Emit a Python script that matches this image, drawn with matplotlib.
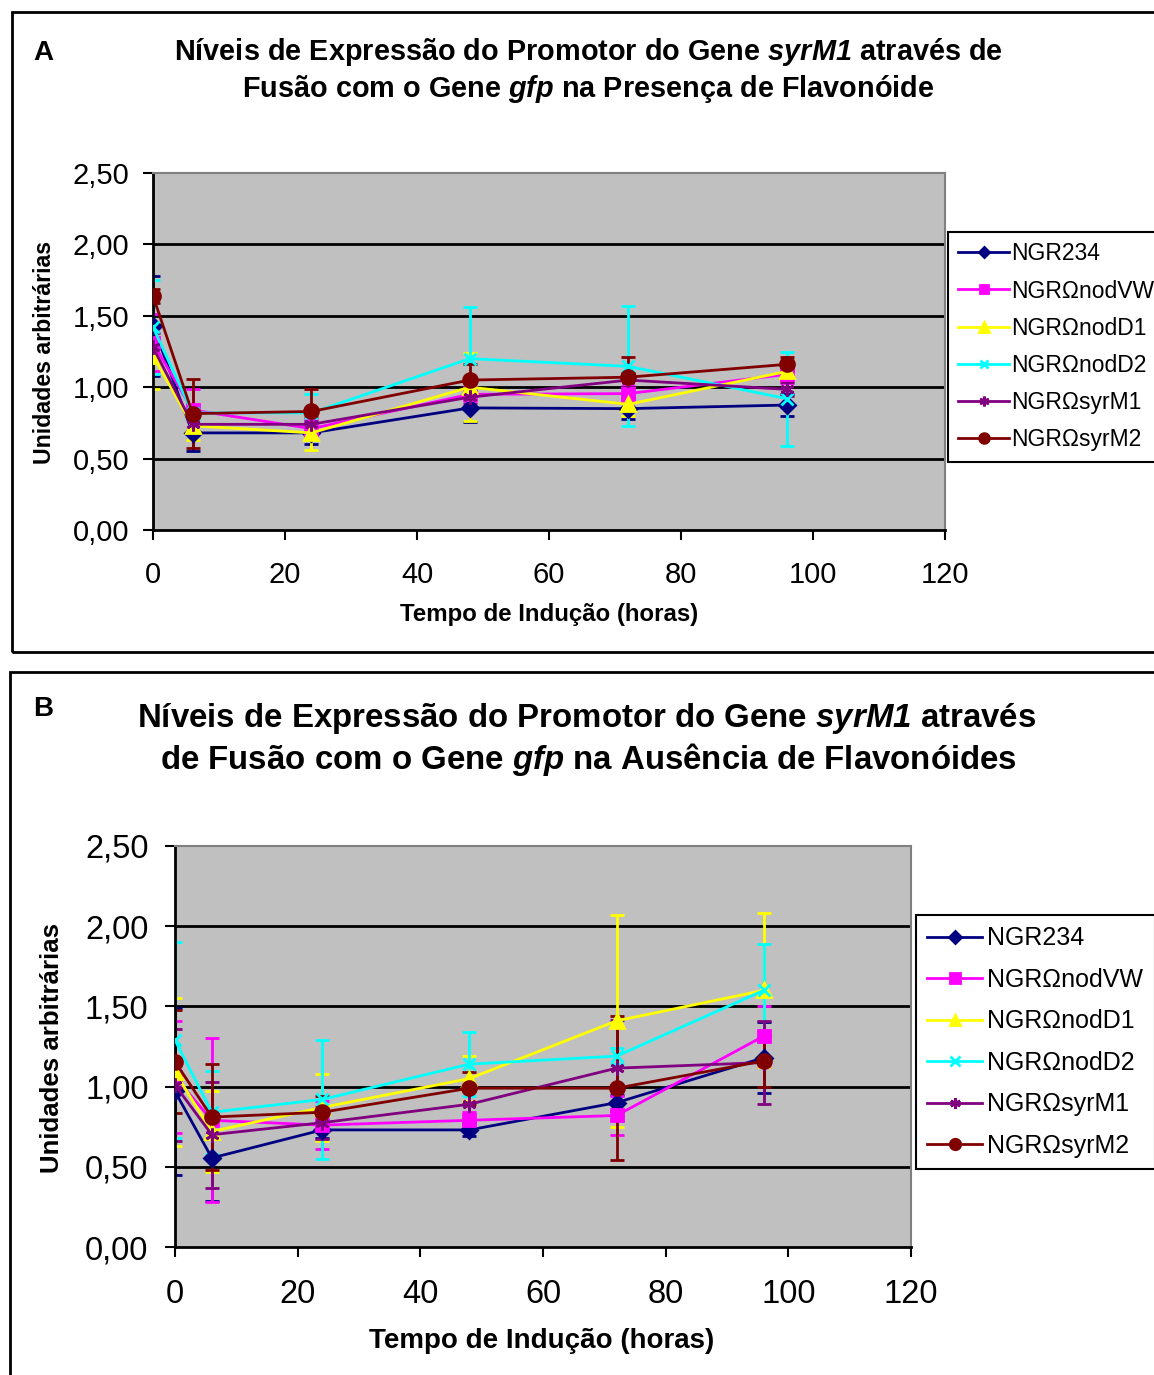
import matplotlib
matplotlib.use('Agg')
import matplotlib.pyplot as plt
from matplotlib.patches import Rectangle
from matplotlib.ticker import FuncFormatter

plt.rcParams['font.family'] = ['Liberation Sans', 'DejaVu Sans']
plt.rcParams['mathtext.fontset'] = 'custom'
# math parts are only used for the italic gene names
plt.rcParams['mathtext.it'] = 'Liberation Sans:italic:bold'
plt.rcParams['mathtext.rm'] = 'Liberation Sans:italic:bold'

# time points (horas)
tempo = [0, 6, 24, 48, 72, 96]
strains = ['NGR234', 'NGRΩnodVW', 'NGRΩnodD1', 'NGRΩnodD2', 'NGRΩsyrM1', 'NGRΩsyrM2']

# panel A - with flavonoid
a_ngr234 = [1.43, 0.68, 0.68, 0.855, 0.85, 0.875]
a_nodvw = [1.31, 0.84, 0.71, 0.95, 0.955, 1.09]
a_nodd1 = [1.22, 0.73, 0.68, 1.00, 0.88, 1.11]
a_nodd2 = [1.42, 0.82, 0.82, 1.20, 1.146, 0.92]
a_syrm1 = [1.28, 0.74, 0.74, 0.93, 1.05, 0.985]
a_syrm2 = [1.64, 0.815, 0.83, 1.05, 1.07, 1.16]
a_err_ngr234 = [0.35, 0.13, 0.08, 0.10, 0.07, 0.08]
a_err_nodvw = [0.20, 0.15, 0.06, 0.05, 0.05, 0.06]
a_err_nodd1 = [0.23, 0.10, 0.12, 0.24, 0.08, 0.07]
a_err_nodd2 = [0.33, 0.05, 0.13, 0.36, 0.42, 0.33]
a_err_syrm1 = [0.10, 0.05, 0.05, 0.05, 0.05, 0.05]
a_err_syrm2 = [0.05, 0.24, 0.16, 0.11, 0.14, 0.05]

# panel B - without flavonoids
b_ngr234 = [0.97, 0.555, 0.73, 0.73, 0.90, 1.18]
b_nodvw = [1.06, 0.79, 0.76, 0.79, 0.82, 1.315]
b_nodd1 = [1.09, 0.72, 0.87, 1.05, 1.41, 1.60]
b_nodd2 = [1.29, 0.84, 0.92, 1.14, 1.19, 1.60]
b_syrm1 = [1.01, 0.70, 0.775, 0.89, 1.115, 1.15]
b_syrm2 = [1.155, 0.81, 0.84, 0.99, 0.99, 1.16]
b_err_ngr234 = [0.52, 0.27, 0.05, 0.04, 0.05, 0.22]
b_err_nodvw = [0.35, 0.51, 0.15, 0.05, 0.12, 0.19]
b_err_nodd1 = [0.46, 0.25, 0.21, 0.14, 0.66, 0.48]
b_err_nodd2 = [0.61, 0.26, 0.37, 0.20, 0.05, 0.29]
b_err_syrm1 = [0.35, 0.33, 0.10, 0.10, 0.30, 0.26]
b_err_syrm2 = [0.32, 0.33, 0.10, 0.10, 0.45, 0.16]

colors = ['#000080', '#FF00FF', '#FFFF00', '#00FFFF', '#800080', '#800000']
markers = ['D', 's', '^', 'x', (6, 2, 0), 'o']
msizes = [8, 9, 10, 9, 10, 10]

comma = FuncFormatter(lambda v, p: ('%.2f' % v).replace('.', ','))

def drawPanel(ax, means, errs, tick_fs, ypad, xpad):
    ax.set_facecolor('#C0C0C0')
    for yv in [0.5, 1.0, 1.5, 2.0]:
        ax.axhline(yv, color='black', lw=2, zorder=1)
    handles = []
    for i in range(len(means)):
        ax.errorbar(tempo, means[i], yerr=errs[i], color=colors[i], lw=2,
                    capsize=5, capthick=2, fmt='none', zorder=2)
        h, = ax.plot(tempo, means[i], color=colors[i], lw=2, marker=markers[i],
                     ms=msizes[i], mew=2, zorder=3)
        handles.append(h)
    ax.set_xlim(0, 120)
    ax.set_ylim(0, 2.5)
    ax.set_xticks(range(0, 121, 20))
    ax.set_yticks([0, 0.5, 1.0, 1.5, 2.0, 2.5])
    ax.yaxis.set_major_formatter(comma)
    ax.tick_params(labelsize=tick_fs, length=7, width=1.5, direction='out')
    ax.tick_params(axis='y', pad=ypad)
    ax.tick_params(axis='x', pad=xpad)
    for s in ['left', 'bottom']:
        ax.spines[s].set_linewidth(2)
        ax.spines[s].set_color('black')
    for s in ['top', 'right']:
        ax.spines[s].set_linewidth(1.5)
        ax.spines[s].set_color('#808080')
    return handles

fig = plt.figure(figsize=(11.54, 13.75), dpi=100)
W, H = 1154.0, 1375.0

def fx(px):
    return px / W

def fy(py):
    return 1 - py / H

# panel frames
fig.patches.append(Rectangle((fx(12), fy(652)), 1.2, (652 - 12) / H, fill=False,
                             lw=2, ec='black', transform=fig.transFigure))
fig.patches.append(Rectangle((fx(10), -0.1), 1.2, fy(672) + 0.1, fill=False,
                             lw=2, ec='black', transform=fig.transFigure))

# panel A
axA = fig.add_axes([fx(153), fy(530), (945 - 153) / W, (530 - 173) / H])
hA = drawPanel(axA,
               [a_ngr234, a_nodvw, a_nodd1, a_nodd2, a_syrm1, a_syrm2],
               [a_err_ngr234, a_err_nodvw, a_err_nodd1, a_err_nodd2, a_err_syrm1, a_err_syrm2],
               21, 10, 15)
fig.text(fx(43), fy(53), 'A', fontsize=20, fontweight='bold', ha='center', va='center')
fig.text(fx(588), fy(52), r'Níveis de Expressão do Promotor do Gene $\mathrm{syrM1}$ através de',
         fontsize=20.8, fontweight='bold', ha='center', va='center')
fig.text(fx(588), fy(89), r'Fusão com o Gene $\mathrm{gfp}$ na Presença de Flavonóide',
         fontsize=20.8, fontweight='bold', ha='center', va='center')
fig.text(fx(549), fy(615), 'Tempo de Indução (horas)', fontsize=17.3, fontweight='bold',
         ha='center', va='center')
fig.text(fx(45), fy(352), 'Unidades arbitrárias', fontsize=16.7, fontweight='bold',
         ha='center', va='center', rotation=90)
legA = fig.legend(hA, strains, loc='upper left', bbox_to_anchor=(fx(948), fy(232)),
                  fontsize=16.5, frameon=True, fancybox=False, edgecolor='black',
                  framealpha=1, borderaxespad=0, handlelength=2.2, labelspacing=0.62,
                  markerscale=0.7, handletextpad=0.1, borderpad=0.45)
legA.get_frame().set_linewidth(1.5)

# panel B
axB = fig.add_axes([fx(175), fy(1247), (911 - 175) / W, (1247 - 846) / H])
hB = drawPanel(axB,
               [b_ngr234, b_nodvw, b_nodd1, b_nodd2, b_syrm1, b_syrm2],
               [b_err_ngr234, b_err_nodvw, b_err_nodd1, b_err_nodd2, b_err_syrm1, b_err_syrm2],
               23.5, 12, 16)
fig.text(fx(43), fy(709), 'B', fontsize=20, fontweight='bold', ha='center', va='center')
fig.text(fx(587), fy(718), r'Níveis de Expressão do Promotor do Gene $\mathrm{syrM1}$ através',
         fontsize=23.8, fontweight='bold', ha='center', va='center')
fig.text(fx(588), fy(760), r'de Fusão com o Gene $\mathrm{gfp}$ na Ausência de Flavonóides',
         fontsize=23.8, fontweight='bold', ha='center', va='center')
fig.text(fx(542), fy(1341), 'Tempo de Indução (horas)', fontsize=20, fontweight='bold',
         ha='center', va='center')
fig.text(fx(52), fy(1048), 'Unidades arbitrárias', fontsize=18.6, fontweight='bold',
         ha='center', va='center', rotation=90)
legB = fig.legend(hB, strains, loc='upper left', bbox_to_anchor=(fx(916), fy(915)),
                  fontsize=18, frameon=True, fancybox=False, edgecolor='black',
                  framealpha=1, borderaxespad=0, handlelength=2.2, labelspacing=0.70,
                  markerscale=0.75, handletextpad=0.2, borderpad=0.45)
legB.get_frame().set_linewidth(1.5)

plt.savefig('out.png', dpi=100)
